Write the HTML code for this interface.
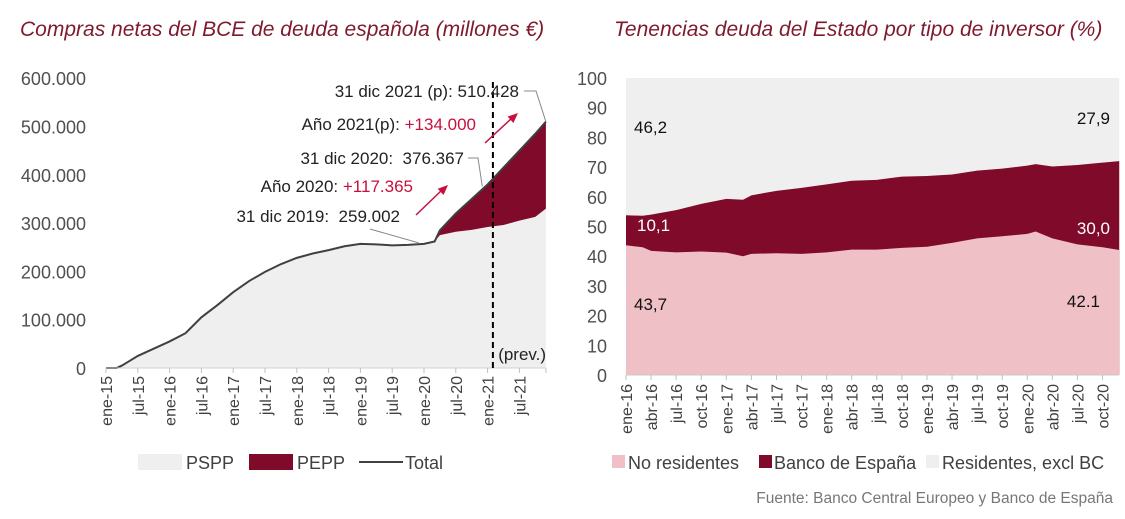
<!DOCTYPE html>
<html><head><meta charset="utf-8">
<style>
body{margin:0;background:#fff;}
svg{display:block;font-family:"Liberation Sans",sans-serif;}
</style></head>
<body>
<svg id="c" width="1125" height="519" viewBox="0 0 1125 519" xmlns="http://www.w3.org/2000/svg">
<text x="20" y="36" font-size="21" font-style="italic" fill="#7f1a2e">Compras netas del BCE de deuda española (millones €)</text>
<text x="614" y="36" font-size="21" font-style="italic" fill="#7f1a2e">Tenencias deuda del Estado por tipo de inversor (%)</text>
<g id="L"></g>
<g id="R"></g>
<text x="1113" y="503" font-size="15.5" fill="#777" text-anchor="end">Fuente: Banco Central Europeo y Banco de España</text>
</svg>
<script>
// Left chart data (months since ene-15, thousands of €M)
const lMonths = [0,2,3,6,9,12,15,18,21,24,27,30,33,36,39,42,45,48,51,54,57,60,62,63,66,69,72,75,78,81,83];
const lTotal  = [0,0,5,25,40,55,72,105,130,157,180,199,215,228,237,244,252,257,256,254,255,257,262,285,320,350,380,415,450,485,510];
const pMonths = [60,62,63,66,69,72,75,78,81,83];
const pspp    = [257,262,275,282,286,292,296,305,313,330];
const lTicks = ['ene-15','jul-15','ene-16','jul-16','ene-17','jul-17','ene-18','jul-18','ene-19','jul-19','ene-20','jul-20','ene-21','jul-21'];
const lYTicks = ['0','100.000','200.000','300.000','400.000','500.000','600.000'];
// Right chart data (months since ene-16, %)
const rMonths = [0,2,3,6,9,12,14,15,18,21,24,27,30,33,36,39,42,45,48,49,51,54,57,59];
const noRes   = [43.7,43,41.8,41.3,41.6,41.2,40,40.8,41,40.8,41.3,42.2,42.2,42.8,43.2,44.5,46,46.7,47.5,48.3,46,44,43,42.1];
const topBdE  = [53.8,53.6,54,55.5,57.6,59.3,59,60.5,62,63,64.2,65.4,65.7,66.8,67,67.5,68.8,69.5,70.5,71,70.2,70.7,71.5,72];
const rTicks = ['ene-16','abr-16','jul-16','oct-16','ene-17','abr-17','jul-17','oct-17','ene-18','abr-18','jul-18','oct-18','ene-19','abr-19','jul-19','oct-19','ene-20','abr-20','jul-20','oct-20'];
const rYTicks = ['0','10','20','30','40','50','60','70','80','90','100'];

const NS='http://www.w3.org/2000/svg';
function mk(p,t,a){const e=document.createElementNS(NS,t);for(const k in a)e.setAttribute(k,a[k]);p.appendChild(e);return e;}

// ---- Left
const L=document.getElementById('L');
const lx=m=>106+m*5.3, ly=v=>368-v*0.483;
const pStart=pMonths[0];
let d='';
lMonths.forEach((m,i)=>{d+=(i?' L':'M')+lx(m)+','+ly(lTotal[i]);});
let dp='';
let k=0;
lMonths.forEach((m,i)=>{if(m>=pStart){dp+=(k?' L':'M')+lx(m)+','+ly(lTotal[i]);k++;}});
for(let i=pMonths.length-1;i>=0;i--)dp+=' L'+lx(pMonths[i])+','+ly(pspp[i]);
dp+='Z';
let ds='M'+lx(lMonths[0])+','+ly(0);
lMonths.forEach((m,i)=>{if(m<pStart)ds+=' L'+lx(m)+','+ly(lTotal[i]);});
pMonths.forEach((m,i)=>{ds+=' L'+lx(m)+','+ly(pspp[i]);});
ds+=' L'+lx(pMonths[pMonths.length-1])+','+ly(0)+'Z';
let e=mk(L,'path',{d:ds,fill:'#efefef'});


e=mk(L,'path',{d:dp,fill:'#7f0a2a'});


e=mk(L,'path',{d:d,fill:'none',stroke:'#404040','stroke-width':2});


mk(L,'line',{x1:lx(0),x2:lx(83),y1:ly(0),y2:ly(0),stroke:'#d0d0d0','stroke-width':1});
lYTicks.forEach((t,i)=>{e=mk(L,'text',{x:86,y:ly(i*100)+7,'font-size':18,fill:'#505050','text-anchor':'end'});e.textContent=t;

});
lTicks.forEach((t,i)=>{const x=lx(i*6);mk(L,'line',{x1:x,x2:x,y1:368,y2:373,stroke:'#c0c0c0'});
e=mk(L,'text',{x:0,y:0,'font-size':16,fill:'#404040','text-anchor':'end',transform:`translate(${x+6},376) rotate(-90)`});e.textContent=t;

});
mk(L,'line',{x1:lx(83),x2:lx(83),y1:368,y2:373,stroke:'#c0c0c0'});
e=mk(L,'line',{x1:lx(73),x2:lx(73),y1:82,y2:368,stroke:'#000','stroke-width':2,'stroke-dasharray':'6,4'});


function txt(x,y,s,a,fill,name){const t=mk(L,'text',{x:x,y:y,'font-size':17,fill:fill||'#222','text-anchor':a||'end'});t.innerHTML=s;return t;}
txt(lx(74),360,'(prev.)','start','#222','prev-label');
txt(519,97,'31 dic 2021 (p): 510.428','end','#222','annotation-2021');
txt(476,130,'Año 2021(p): <tspan fill="#c8103e">+134.000</tspan>','end','#222','annotation-year-2021');
txt(464,164,'31 dic 2020:\u00a0 376.367','end','#222','annotation-2020');
txt(413,192,'Año 2020: <tspan fill="#c8103e">+117.365</tspan>','end','#222','annotation-year-2020');
txt(400,222,'31 dic 2019:\u00a0 259.002','end','#222','annotation-2019');
mk(L,'polyline',{points:`524,91 536,91 ${lx(83)},${ly(510)}`,fill:'none',stroke:'#888','stroke-width':1});
mk(L,'polyline',{points:`468,158 478,158 ${lx(71)},${ly(376)}`,fill:'none',stroke:'#888','stroke-width':1});
mk(L,'polyline',{points:`370,229 ${lx(59)},${ly(259)}`,fill:'none',stroke:'#888','stroke-width':1});
function arrow(x1,y1,x2,y2,name){const g=mk(L,'g',{});
mk(g,'line',{x1:x1,y1:y1,x2:x2-6,y2:y2+5,stroke:'#c8103e','stroke-width':1.5});
const a=Math.atan2(y2-y1,x2-x1),s=11;
mk(g,'polygon',{points:`${x2},${y2} ${x2-s*Math.cos(a-0.4)},${y2-s*Math.sin(a-0.4)} ${x2-s*Math.cos(a+0.4)},${y2-s*Math.sin(a+0.4)}`,fill:'#c8103e'});}
arrow(485,143,518,113,'arrow-2021');
arrow(416,215,448,185,'arrow-2020');
const lg=mk(L,'g',{});
mk(lg,'rect',{x:138,y:454,width:44,height:16,fill:'#efefef'});
let t=mk(lg,'text',{x:186,y:469,'font-size':18,fill:'#404040'});t.textContent='PSPP';
mk(lg,'rect',{x:249,y:454,width:44,height:16,fill:'#7f0a2a'});
t=mk(lg,'text',{x:297,y:469,'font-size':18,fill:'#404040'});t.textContent='PEPP';
mk(lg,'line',{x1:359,x2:403,y1:462,y2:462,stroke:'#404040','stroke-width':2});
t=mk(lg,'text',{x:405,y:469,'font-size':18,fill:'#404040'});t.textContent='Total';

// ---- Right
const R=document.getElementById('R');
const rx=m=>626+m*8.36, ry=v=>375-v*2.97;
e=mk(R,'rect',{x:rx(0),y:ry(100),width:rx(59)-rx(0),height:ry(0)-ry(100),fill:'#efefef'});


let db='M'+rx(0)+','+ry(0);
rMonths.forEach((m,i)=>db+=' L'+rx(m)+','+ry(topBdE[i]));
db+=' L'+rx(59)+','+ry(0)+'Z';
e=mk(R,'path',{d:db,fill:'#7f0a2a'});


let dn='M'+rx(0)+','+ry(0);
rMonths.forEach((m,i)=>dn+=' L'+rx(m)+','+ry(noRes[i]));
dn+=' L'+rx(59)+','+ry(0)+'Z';
e=mk(R,'path',{d:dn,fill:'#f0c0c7'});


mk(R,'line',{x1:rx(0),x2:rx(59),y1:ry(0),y2:ry(0),stroke:'#c8c8c8'});
rYTicks.forEach((s,i)=>{e=mk(R,'text',{x:607,y:ry(i*10)+7,'font-size':18,fill:'#505050','text-anchor':'end'});e.textContent=s;

});
rTicks.forEach((s,i)=>{const x=rx(i*3);mk(R,'line',{x1:x,x2:x,y1:375,y2:380,stroke:'#c0c0c0'});
e=mk(R,'text',{x:0,y:0,'font-size':16,fill:'#404040','text-anchor':'end',transform:`translate(${x+6},384) rotate(-90)`});e.textContent=s;

});
function rt(x,y,s,fill,a,name){const t=mk(R,'text',{x:x,y:y,'font-size':17,fill:fill,'text-anchor':a});t.textContent=s;}
rt(634,133,'46,2','#111','start','label-res-start');
rt(1110,124,'27,9','#111','end','label-bde-end-res');
rt(637,231,'10,1','#fff','start','label-bde-start');
rt(1110,234,'30,0','#fff','end','label-bde-end');
rt(634,310,'43,7','#111','start','label-nores-start');
rt(1100,307,'42.1','#111','end','label-nores-end');
const rg=mk(R,'g',{});
mk(rg,'rect',{x:612,y:455,width:13,height:13,fill:'#f0c0c7'});
t=mk(rg,'text',{x:628,y:469,'font-size':18,fill:'#404040'});t.textContent='No residentes';
mk(rg,'rect',{x:759,y:455,width:13,height:13,fill:'#7f0a2a'});
t=mk(rg,'text',{x:774,y:469,'font-size':18,fill:'#404040'});t.textContent='Banco de España';
mk(rg,'rect',{x:926,y:455,width:13,height:13,fill:'#efefef'});
t=mk(rg,'text',{x:942,y:469,'font-size':18,fill:'#404040'});t.textContent='Residentes, excl BC';
</script>
</body></html>
